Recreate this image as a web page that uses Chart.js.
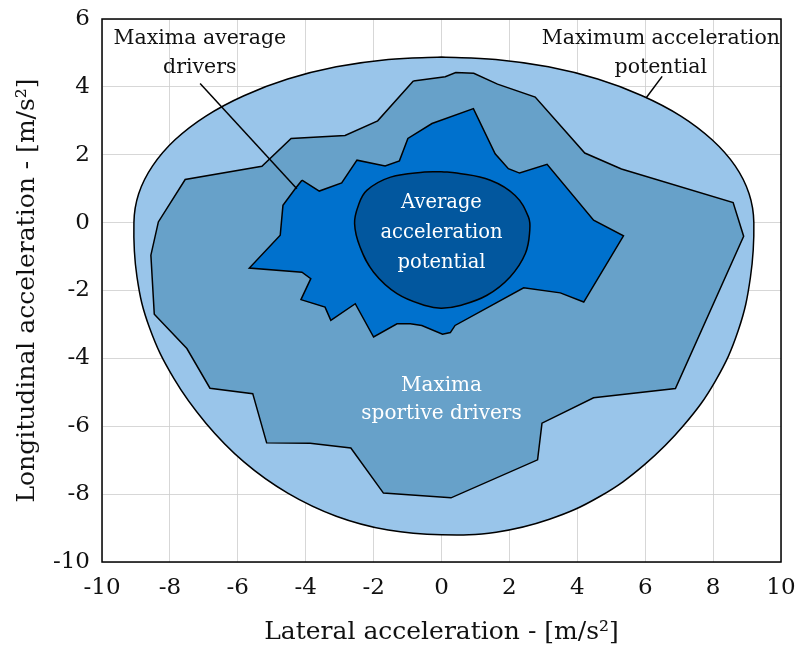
<!DOCTYPE html>
<html>
<head>
<meta charset="utf-8">
<title>Acceleration potential</title>
<script src="https://cdn.jsdelivr.net/npm/chart.js@4.4.1/dist/chart.umd.min.js"></script>
<style>
  html, body { margin: 0; padding: 0; background: #fff; }
  #wrap { width: 800px; height: 647px; }
</style>
</head>
<body>
<div id="wrap"><canvas id="chartGG" width="800" height="647"></canvas></div>
<script>
// Axis ticks
const X_TICKS = [-10, -8, -6, -4, -2, 0, 2, 4, 6, 8, 10];
const Y_TICKS = [-10, -8, -6, -4, -2, 0, 2, 4, 6];

// Outlines: [lateral, longitudinal] in m/s2
const MAX_POTENTIAL = [
  [0, 4.88], [1.6, 4.81], [3.15, 4.59], [4.6, 4.23], [5.91, 3.74],
  [7.05, 3.14], [7.97, 2.44], [8.65, 1.67], [9.06, 0.85], [9.2, 0],
  [9.1, -1.61], [8.74, -3.18], [8.07, -4.66], [7.13, -5.98], [5.98, -7.13],
  [4.66, -8.07], [3.18, -8.74], [1.61, -9.12], [0, -9.2], [-1.57, -9.06],
  [-3.1, -8.65], [-4.53, -7.97], [-5.82, -7.05], [-6.94, -5.91], [-7.88, -4.6],
  [-8.6, -3.1], [-8.97, -1.6], [-9.06, 0], [-8.92, 0.85], [-8.51, 1.67],
  [-7.85, 2.44], [-6.94, 3.14], [-5.82, 3.74], [-4.53, 4.23], [-3.1, 4.59],
  [-1.57, 4.81], [0, 4.88],
];

const SPORTIVE_DRIVERS = [
  [-0.83, 4.17], [0.11, 4.3], [0.42, 4.42], [0.95, 4.4], [1.65, 4.08],
  [2.76, 3.7], [4.22, 2.05], [5.3, 1.58], [8.59, 0.59], [8.9, -0.4],
  [6.89, -4.89], [4.48, -5.16], [2.96, -5.91], [2.83, -6.99], [0.28, -8.11],
  [-1.71, -7.97], [-2.67, -6.64], [-3.87, -6.5], [-5.15, -6.49], [-5.56, -5.04],
  [-6.82, -4.88], [-7.5, -3.71], [-8.46, -2.7], [-8.56, -0.96], [-8.34, 0.02],
  [-7.55, 1.27], [-5.29, 1.66], [-4.43, 2.48], [-2.84, 2.57], [-1.88, 3.0],
  [-0.83, 4.17],
];

const AVERAGE_DRIVERS = [
  [-4.11, 1.25], [-3.6, 0.93], [-2.94, 1.17], [-2.49, 1.84], [-1.66, 1.67],
  [-1.24, 1.82], [-0.99, 2.48], [-0.28, 2.92], [0.94, 3.36], [1.58, 2.03],
  [1.97, 1.59], [2.3, 1.46], [3.11, 1.72], [4.48, 0.07], [5.36, -0.39],
  [4.19, -2.34], [3.5, -2.07], [2.42, -1.92], [0.4, -3.03], [0.26, -3.24],
  [0.03, -3.29], [-0.58, -3.03], [-0.92, -2.98], [-1.31, -2.98], [-2.0, -3.37],
  [-2.54, -2.39], [-3.26, -2.88], [-3.43, -2.49], [-4.14, -2.27], [-3.85, -1.65],
  [-4.11, -1.46], [-5.66, -1.34], [-4.75, -0.37], [-4.67, 0.51], [-4.31, 1.0],
  [-4.11, 1.25],
];

const AVERAGE_POTENTIAL = [
  [0, 1.5], [0.45, 1.46], [1.44, 1.25], [2.17, 0.8], [2.56, 0.17],
  [2.6, -0.23], [2.47, -0.91], [2.02, -1.6], [1.34, -2.14], [0.55, -2.44],
  [0, -2.52], [-0.45, -2.45], [-1.31, -2.09], [-2.0, -1.46], [-2.4, -0.72],
  [-2.56, -0.03], [-2.45, 0.5], [-2.2, 0.95], [-1.5, 1.34], [-0.5, 1.49],
  [0, 1.5],
];

// Leader lines of the labels
const LEADER_AVG_DRIVERS = [[-7.11, 4.1], [-4.26, 1.0]];
const LEADER_MAX_POTENTIAL = [[6.5, 4.31], [6.03, 3.68]];

// Label texts
const TXT_MAX_POTENTIAL = ["Maximum acceleration", "potential"];
const TXT_AVG_DRIVERS = ["Maxima average", "drivers"];
const TXT_AVG_POTENTIAL = ["Average", "acceleration", "potential"];
const TXT_SPORTIVE = ["Maxima", "sportive drivers"];

const FONT = "'DejaVu Serif', 'Liberation Serif', serif";
const GRID_COLOR = "rgba(205, 205, 205, 0.8)";

const toPoints = (arr) => arr.map(([x, y]) => ({ x, y }));

function outline(data, areaColor, tension) {
  return {
    data: toPoints(data),
    showLine: true,
    borderColor: "#000",
    borderWidth: 1.5,
    pointRadius: 0,
    tension: tension || 0,
    areaColor,
  };
}

// Fills each closed outline right before its line is drawn
const fillShapes = {
  id: "fillShapes",
  beforeDatasetDraw(chart, args) {
    const ds = chart.data.datasets[args.index];
    if (!ds.areaColor) return;
    const meta = args.meta;
    const line = meta.dataset;
    line.updateControlPoints(chart.chartArea, meta.iScale.axis);
    const ctx = chart.ctx;
    ctx.save();
    ctx.beginPath();
    line.path(ctx);
    ctx.closePath();
    ctx.fillStyle = ds.areaColor;
    ctx.fill();
    ctx.restore();
  },
};

function drawBlock(ctx, lines, px, py, color, size, gap) {
  ctx.fillStyle = color;
  ctx.font = `${size}px ${FONT}`;
  ctx.textAlign = "center";
  ctx.textBaseline = "middle";
  const y0 = py - ((lines.length - 1) * gap) / 2;
  lines.forEach((t, i) => ctx.fillText(t, px, y0 + i * gap));
}

const frameAndLabels = {
  id: "frameAndLabels",
  afterDraw(chart) {
    const { ctx, chartArea: a } = chart;
    const { x, y } = chart.scales;
    ctx.save();
    ctx.strokeStyle = "#000";
    ctx.lineWidth = 1.5;
    ctx.strokeRect(a.left, a.top, a.right - a.left, a.bottom - a.top);

    drawBlock(ctx, TXT_AVG_DRIVERS, x.getPixelForValue(-7.12), y.getPixelForValue(4.98), "#111", 20.5, 29);
    drawBlock(ctx, TXT_MAX_POTENTIAL, x.getPixelForValue(6.46), y.getPixelForValue(4.99), "#111", 20.5, 29);
    drawBlock(ctx, TXT_AVG_POTENTIAL, x.getPixelForValue(0), y.getPixelForValue(-0.3), "#fff", 19.5, 30);
    drawBlock(ctx, TXT_SPORTIVE, x.getPixelForValue(0), y.getPixelForValue(-5.22), "#fff", 20, 27.5);
    ctx.restore();
  },
};

const leader = (data) => ({
  data: toPoints(data),
  showLine: true,
  borderColor: "#000",
  borderWidth: 1.5,
  pointRadius: 0,
});

// first dataset ends up on top
new Chart(document.getElementById("chartGG").getContext("2d"), {
  type: "scatter",
  data: {
    datasets: [
      leader(LEADER_AVG_DRIVERS),
      leader(LEADER_MAX_POTENTIAL),
      outline(AVERAGE_POTENTIAL, "#02579e", 0.4),
      outline(AVERAGE_DRIVERS, "#0071cd"),
      outline(SPORTIVE_DRIVERS, "#67a1c9"),
      outline(MAX_POTENTIAL, "#99c5ea", 0.4),
    ],
  },
  options: {
    responsive: false,
    animation: false,
    events: [],
    layout: { padding: { left: 0, top: 19, right: 19, bottom: 0 } },
    plugins: {
      legend: { display: false },
      tooltip: { enabled: false },
    },
    scales: {
      x: {
        type: "linear",
        min: -10,
        max: 10,
        z: 1,
        afterBuildTicks: (s) => {
          s.ticks = X_TICKS.map((v) => ({ value: v }));
        },
        afterFit: (s) => {
          s.height = 85;
          s.paddingLeft = 0;
          s.paddingRight = 0;
        },
        border: { display: false },
        grid: { color: GRID_COLOR, lineWidth: 1, drawTicks: false },
        ticks: {
          color: "#111",
          padding: 12,
          maxRotation: 0,
          font: { family: FONT, size: 23 },
        },
        title: {
          display: true,
          text: "Lateral acceleration - [m/s²]",
          color: "#111",
          font: { family: FONT, size: 25 },
          padding: { top: 0, bottom: 0 },
        },
      },
      y: {
        type: "linear",
        min: -10,
        max: 6,
        z: 1,
        afterBuildTicks: (s) => {
          s.ticks = Y_TICKS.map((v) => ({ value: v }));
        },
        afterFit: (s) => {
          s.width = 102;
          s.paddingTop = 0;
          s.paddingBottom = 0;
        },
        border: { display: false },
        grid: { color: GRID_COLOR, lineWidth: 1, drawTicks: false },
        ticks: {
          color: "#111",
          padding: 12,
          font: { family: FONT, size: 23 },
        },
        title: {
          display: true,
          text: "Longitudinal acceleration - [m/s²]",
          color: "#111",
          font: { family: FONT, size: 25 },
          padding: { top: 12.5, bottom: 0 },
        },
      },
    },
  },
  plugins: [fillShapes, frameAndLabels],
});
</script>
</body>
</html>
